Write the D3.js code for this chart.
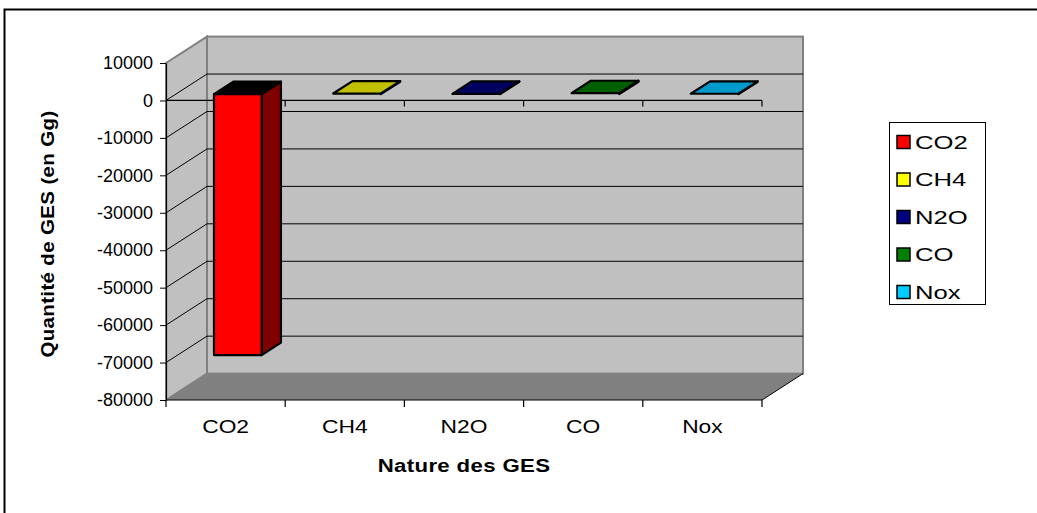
<!DOCTYPE html>
<html>
<head>
<meta charset="utf-8">
<script src="https://cdn.jsdelivr.net/npm/d3@7"></script>
<style>
  html, body { margin: 0; padding: 0; background: #fff; }
  svg { display: block; }
  text { font-family: "Liberation Sans", Arial, sans-serif; fill: #000; }
</style>
</head>
<body>
<svg id="chart" width="1037" height="513"></svg>
<script>
// ---- data ----
const categories = ["CO2", "CH4", "N2O", "CO", "Nox"];
const values = [-69700, 150, 80, 250, 100];
const yTicks = [10000, 0, -10000, -20000, -30000, -40000, -50000, -60000, -70000, -80000];
const legendColors = ["#FF0000", "#FFFF00", "#000080", "#008000", "#00CCFF"];
const topColors = ["#000000", "#C0C000", "#000060", "#006000", "#0099CC"];
const sideColors = ["#800000", "#808000", "#000040", "#004000", "#006680"];
const yTitle = "Quantité de GES (en Gg)";
const xTitle = "Nature des GES";

// ---- layout ----
const svg = d3.select("#chart");
const pL = 166, pR = 762, pT = 63, pB = 400;
const DX = 41, DY = -26.4;           // full depth offset
const f1 = 0.24, f2 = 0.71;          // bar depth span
const y = d3.scaleLinear().domain([-80000, 10000]).range([pB, pT]);
const x = d3.scaleBand().domain(categories).range([pL, pR]);
const bw = x.bandwidth();

// outer frame
svg.append("rect").attr("x", 4.5).attr("y", 9.5).attr("width", 1100).attr("height", 600)
  .attr("fill", "#fff").attr("stroke", "#000").attr("stroke-width", 2);

const yMax = y.domain()[1], yMin = y.domain()[0];
const pt = (px, py, f) => [px + DX * f, py + DY * f];
const poly = pts => pts.map(p => p.join(",")).join(" ");

// side wall
svg.append("polygon")
  .attr("points", poly([pt(pL, y(yMax), 0), pt(pL, y(yMax), 1), pt(pL, y(yMin), 1), pt(pL, y(yMin), 0)]))
  .attr("fill", "#C0C0C0").attr("stroke", "#808080").attr("stroke-width", 2);
// back wall
svg.append("rect")
  .attr("x", pL + DX).attr("y", y(yMax) + DY)
  .attr("width", pR - pL).attr("height", y(yMin) - y(yMax))
  .attr("fill", "#C0C0C0").attr("stroke", "#808080").attr("stroke-width", 2);
// floor
svg.append("polygon")
  .attr("points", poly([pt(pL, y(yMin), 0), pt(pR, y(yMin), 0), pt(pR, y(yMin), 1), pt(pL, y(yMin), 1)]))
  .attr("fill", "#808080");
svg.append("line")
  .attr("x1", pR).attr("y1", y(yMin)).attr("x2", pR + DX).attr("y2", y(yMin) + DY)
  .attr("stroke", "#000").attr("stroke-width", 1);

// gridlines (back wall + side wall)
const gridVals = yTicks.filter(v => v < yMax && v > yMin);
svg.selectAll(".gback").data(gridVals).join("line")
  .attr("x1", pL + DX).attr("x2", pR + DX)
  .attr("y1", d => y(d) + DY).attr("y2", d => y(d) + DY)
  .attr("stroke", "#000").attr("stroke-width", 1);
svg.selectAll(".gside").data(gridVals).join("line")
  .attr("x1", pL).attr("x2", pL + DX)
  .attr("y1", d => y(d)).attr("y2", d => y(d) + DY)
  .attr("stroke", "#000").attr("stroke-width", 1);

// category line at zero on front plane
const edges = categories.map(c => x(c) + bw);
svg.append("line").attr("x1", pL).attr("x2", pR).attr("y1", y(0)).attr("y2", y(0))
  .attr("stroke", "#000").attr("stroke-width", 1.2);
svg.selectAll(".zt").data(edges).join("line")
  .attr("x1", d => d).attr("x2", d => d).attr("y1", y(0)).attr("y2", y(0) + 6)
  .attr("stroke", "#000").attr("stroke-width", 1.2);

// bars
categories.forEach((c, i) => {
  const v = values[i];
  const x0 = x(c) + bw * 0.32, x1 = x0 + bw * 0.40;
  const ya = y(0), yb = y(v);
  const yT = Math.min(ya, yb), yB = Math.max(ya, yb);
  const g = svg.append("g").attr("stroke", "#000").attr("stroke-width", 2.2).attr("stroke-linejoin", "round");
  g.append("polygon").attr("points", poly([pt(x1, yT, f1), pt(x1, yT, f2), pt(x1, yB, f2), pt(x1, yB, f1)]))
    .attr("fill", sideColors[i]);
  g.append("polygon").attr("points", poly([pt(x0, yT, f1), pt(x0, yT, f2), pt(x1, yT, f2), pt(x1, yT, f1)]))
    .attr("fill", topColors[i]);
  if (yB - yT > 1) {
    g.append("polygon").attr("points", poly([pt(x0, yT, f1), pt(x1, yT, f1), pt(x1, yB, f1), pt(x0, yB, f1)]))
      .attr("fill", legendColors[i]);
  }
});

// y axis
const yAxis = d3.axisLeft(y).tickValues(yTicks).tickSize(6).tickSizeOuter(0).tickPadding(7)
  .tickFormat(d => String(d));
const yg = svg.append("g").attr("transform", `translate(${pL},0)`).call(yAxis);
yg.select(".domain").attr("stroke", "#000").attr("stroke-width", 1.2);
yg.selectAll(".tick line").attr("stroke", "#000");
yg.selectAll(".tick text").attr("font-size", 18).attr("font-family", "Liberation Sans, Arial, sans-serif").attr("fill", "#000");

// x axis (bottom)
svg.append("line").attr("x1", pL).attr("x2", pR).attr("y1", pB).attr("y2", pB)
  .attr("stroke", "#000").attr("stroke-width", 1.2);
const allEdges = [pL].concat(edges);
svg.selectAll(".bt").data(allEdges).join("line")
  .attr("x1", d => d).attr("x2", d => d).attr("y1", pB).attr("y2", pB + 7)
  .attr("stroke", "#000").attr("stroke-width", 1.2);
svg.selectAll(".cl").data(categories).join("text")
  .attr("transform", d => `translate(${x(d) + bw / 2},433) scale(1.2,1)`)
  .attr("text-anchor", "middle").attr("font-size", 19)
  .text(d => d);

// axis titles
svg.append("text").attr("transform", "translate(464,472) scale(1.17,1)").attr("text-anchor", "middle")
  .attr("font-size", 19).attr("font-weight", "bold").attr("letter-spacing", 0.3).text(xTitle);
svg.append("text").attr("transform", "translate(54,234) rotate(-90) scale(1.14,1)").attr("text-anchor", "middle")
  .attr("font-size", 18).attr("font-weight", "bold").attr("letter-spacing", 0.3).text(yTitle);

// legend
const lg = svg.append("g");
lg.append("rect").attr("x", 889.5).attr("y", 122.5).attr("width", 96).attr("height", 182)
  .attr("fill", "#fff").attr("stroke", "#000").attr("stroke-width", 1);
const rowY = d3.scalePoint().domain(categories).range([142, 292]);
lg.selectAll(".sw").data(categories).join("rect")
  .attr("x", 897).attr("y", d => rowY(d) - 6.5).attr("width", 13).attr("height", 13)
  .attr("fill", (d, i) => legendColors[i]).attr("stroke", "#000").attr("stroke-width", 1.5);
lg.selectAll(".lt").data(categories).join("text")
  .attr("transform", d => `translate(915,${rowY(d)}) scale(1.35,1)`).attr("dy", "0.36em")
  .attr("font-size", 19).text(d => d);
</script>
</body>
</html>
